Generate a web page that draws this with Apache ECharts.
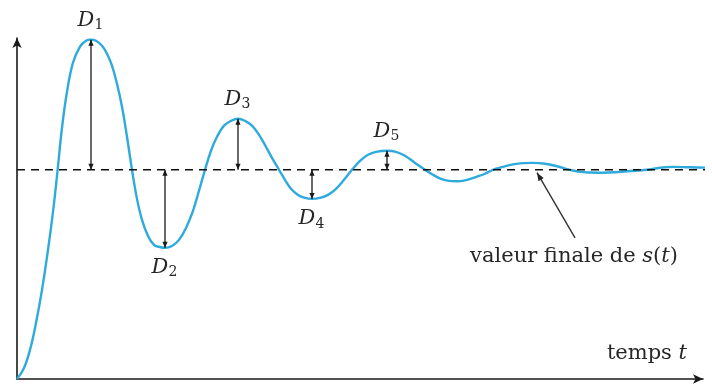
<!DOCTYPE html>
<html>
<head>
<meta charset="utf-8">
<script src="https://cdn.jsdelivr.net/npm/echarts@6/dist/echarts.min.js"></script>
<style>
  html, body { margin: 0; padding: 0; background: #ffffff; }
  #chart { width: 712px; height: 387px; }
</style>
</head>
<body>
<div id="chart"></div>
<script>
// Step response s(t) of an under-damped system (final value normalised to 1)
const timeValues = [
  0, 0.14, 0.26, 0.38, 0.5, 0.62, 0.72, 0.8, 0.9, 1.0, 1.12, 1.26, 1.38, 1.48,
  1.58, 1.7, 1.8, 1.9, 2.0, 2.1, 2.2, 2.3, 2.4, 2.5, 2.62, 2.74, 2.84, 2.96,
  3.1, 3.24, 3.38, 3.52, 3.64, 3.76, 3.88, 4.0, 4.14, 4.28, 4.42,
  4.56, 4.7, 4.84, 4.98, 5.1, 5.24, 5.36, 5.48, 5.62, 5.76, 5.9,
  6.06, 6.22, 6.38, 6.54, 6.7, 6.86, 7.02, 7.18, 7.4,
  7.58, 7.76, 7.96, 8.16, 8.32, 8.48, 8.64, 8.8,
  9.0, 9.2, 9.36, 9.52, 9.72, 9.92, 10.12, 10.32,
  10.56, 10.8, 11.06, 11.26, 11.48, 11.72,
  11.96, 12.2, 12.6, 12.86, 13.12, 13.46, 13.9
];
const responseValues = [
  0, 0.053, 0.139, 0.268, 0.426, 0.617, 0.799, 0.971, 1.201, 1.373, 1.512, 1.589, 1.617, 1.622,
  1.617, 1.593, 1.555, 1.498, 1.411, 1.301, 1.158, 1.0, 0.861, 0.761, 0.684, 0.641, 0.632, 0.627,
  0.636, 0.665, 0.722, 0.804, 0.9, 1.0, 1.091, 1.158, 1.211, 1.234, 1.244,
  1.234, 1.211, 1.167, 1.110, 1.057, 1.0, 0.952, 0.909, 0.880, 0.866, 0.861,
  0.866, 0.880, 0.909, 0.952, 1.0, 1.043, 1.072, 1.086, 1.091,
  1.086, 1.067, 1.033, 1.0, 0.976, 0.957, 0.947, 0.945,
  0.952, 0.967, 0.981, 1.0, 1.014, 1.026, 1.032, 1.033,
  1.029, 1.017, 1.0, 0.990, 0.987, 0.986,
  0.988, 0.993, 1.0, 1.010, 1.014, 1.012, 1.010
];

// Successive overshoots D1..D5 (time and value of each extremum)
const extremaIndex = ['1', '2', '3', '4', '5'];
const extremaTimes = [1.48, 2.96, 4.42, 5.9, 7.4];
const extremaValues = [1.622, 0.627, 1.244, 0.861, 1.091];

const finalValue = 1;
const timeMax = 13.9;

// Pointer towards the final value line: tail and head
const pointerTail = [11.16, 0.675];
const pointerHead = [10.4, 0.986];
const pointerText = ['valeur finale de ', 's', '(', 't', ')'];
const timeAxisText = ['temps ', 't'];

const FONT = '"DejaVu Serif", "Liberation Serif", serif';
const INK = '#262626';

const curve = timeValues.map((t, i) => [t, responseValues[i]]);
const extrema = extremaTimes.map((t, i) => [t, extremaValues[i], extremaIndex[i]]);

function arrowHead(tip, from, len, half) {
  const dx = tip[0] - from[0], dy = tip[1] - from[1];
  const d = Math.hypot(dx, dy) || 1;
  const ux = dx / d, uy = dy / d;
  const bx = tip[0] - ux * len, by = tip[1] - uy * len;
  return [tip, [bx - uy * half, by + ux * half], [bx + uy * half, by - ux * half]];
}

const chart = echarts.init(document.getElementById('chart'), null, { renderer: 'canvas' });

chart.setOption({
  animation: false,
  backgroundColor: '#ffffff',
  grid: { left: 17, right: 9, top: 38, bottom: 8, containLabel: false },
  xAxis: {
    type: 'value', min: 0, max: 13.72,
    axisLine: { show: true, onZero: false, symbol: ['none', 'arrow'], symbolSize: [7, 10],
      lineStyle: { color: '#1a1a1a', width: 1.6 } },
    axisTick: { show: false }, axisLabel: { show: false }, splitLine: { show: false }
  },
  yAxis: {
    type: 'value', min: 0, max: 1.63,
    axisLine: { show: true, onZero: false, symbol: ['none', 'arrow'], symbolSize: [7, 10],
      lineStyle: { color: '#1a1a1a', width: 1.6 } },
    axisTick: { show: false }, axisLabel: { show: false }, splitLine: { show: false }
  },
  graphic: [{
    type: 'text', right: 25, top: 343,
    style: {
      text: '{r|' + timeAxisText[0] + '}{i|' + timeAxisText[1] + '}',
      rich: {
        r: { fontFamily: FONT, fontSize: 21, fill: INK },
        i: { fontFamily: FONT, fontSize: 21, fontStyle: 'italic', fill: INK }
      }
    }
  }],
  series: [
    {
      type: 'line', name: 's(t)', data: curve, smooth: 0.4, clip: false,
      showSymbol: false, z: 2,
      lineStyle: { color: '#2eaadd', width: 2.4 }
    },
    {
      type: 'line', name: 'final', data: [[0, finalValue], [timeMax, finalValue]],
      clip: false, showSymbol: false, z: 3,
      lineStyle: { color: '#111111', width: 1.5, type: [8, 6] }
    },
    {
      type: 'custom', name: 'overshoots', data: extrema, z: 4, clip: false,
      renderItem: function (params, api) {
        const t = api.value(0), v = api.value(1);
        const idx = extremaIndex[params.dataIndex];
        const p1 = api.coord([t, v]);
        const p2 = api.coord([t, finalValue]);
        const up = v > finalValue;
        const dy = up ? -19 : 20;
        return {
          type: 'group',
          children: [
            { type: 'line', shape: { x1: p1[0], y1: p1[1], x2: p2[0], y2: p2[1] },
              style: { stroke: '#1a1a1a', lineWidth: 1.3 } },
            { type: 'polygon', shape: { points: arrowHead(p1, p2, 6, 2.6) }, style: { fill: '#1a1a1a' } },
            { type: 'polygon', shape: { points: arrowHead(p2, p1, 6, 2.6) }, style: { fill: '#1a1a1a' } },
            { type: 'text', x: p1[0] - 5, y: p1[1] + dy,
              style: { text: 'D', fontFamily: FONT, fontSize: 21, fontStyle: 'italic', fill: INK,
                align: 'center', verticalAlign: 'middle' } },
            { type: 'text', x: p1[0] + 8, y: p1[1] + dy + 5,
              style: { text: idx, fontFamily: FONT, fontSize: 14, fill: INK,
                align: 'center', verticalAlign: 'middle' } }
          ]
        };
      }
    },
    {
      type: 'custom', name: 'pointer', data: [[pointerTail[0], pointerTail[1], pointerHead[0], pointerHead[1]]],
      z: 4, clip: false,
      renderItem: function (params, api) {
        const tail = api.coord([api.value(0), api.value(1)]);
        const head = api.coord([api.value(2), api.value(3)]);
        return {
          type: 'group',
          children: [
            { type: 'line', shape: { x1: tail[0], y1: tail[1], x2: head[0], y2: head[1] },
              style: { stroke: '#333333', lineWidth: 1.4 } },
            { type: 'polygon', shape: { points: arrowHead(head, tail, 8, 3) }, style: { fill: '#222222' } },
            { type: 'text', x: tail[0] - 1, y: tail[1] + 19,
              style: {
                text: '{r|' + pointerText[0] + '}{i|' + pointerText[1] + '}{r|' + pointerText[2] +
                      '}{i|' + pointerText[3] + '}{r|' + pointerText[4] + '}',
                rich: {
                  r: { fontFamily: FONT, fontSize: 21, fill: INK },
                  i: { fontFamily: FONT, fontSize: 21, fontStyle: 'italic', fill: INK }
                },
                align: 'center', verticalAlign: 'middle'
              } }
          ]
        };
      }
    }
  ]
});
</script>
</body>
</html>
